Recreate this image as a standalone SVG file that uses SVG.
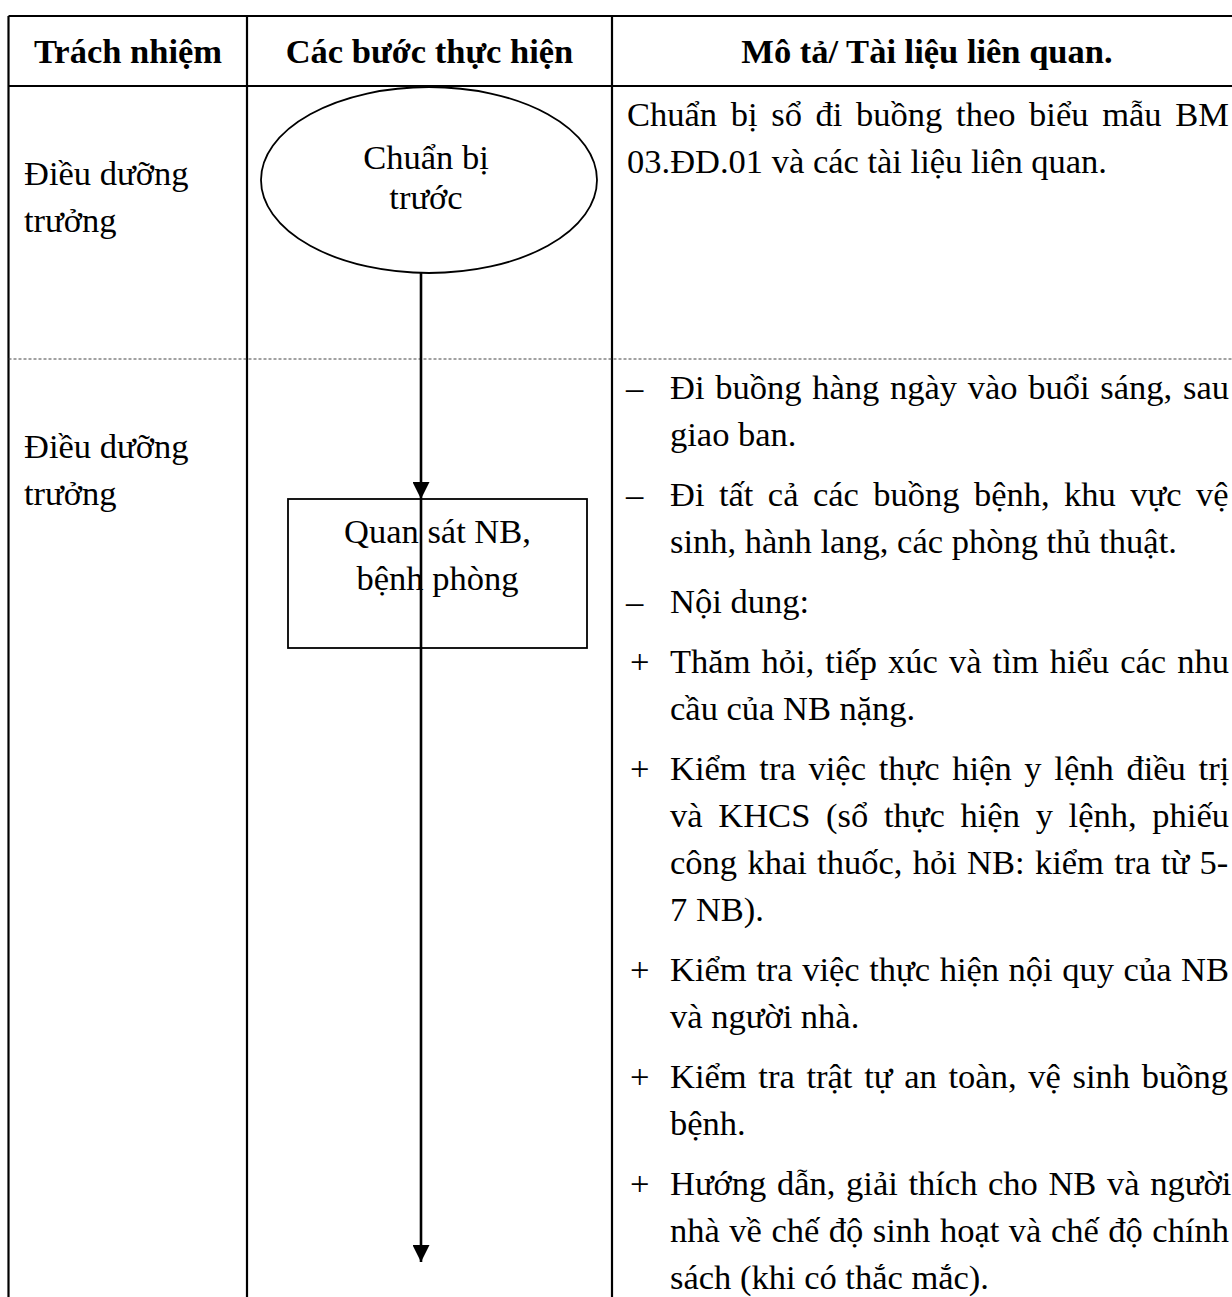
<svg xmlns="http://www.w3.org/2000/svg" width="1232" height="1297" viewBox="0 0 1232 1297">
<defs>
<style>
text{font-family:"Liberation Serif","Times New Roman",serif;font-size:34.5px;fill:#000}
.h{font-weight:bold;text-anchor:middle}
.c{text-anchor:middle}
.grid{stroke:#000;stroke-width:2.2;fill:none}
.dash{stroke:#444;stroke-width:1;stroke-dasharray:3 2;fill:none}
.shape{stroke:#000;stroke-width:1.8;fill:#fff}
.conn{stroke:#000;stroke-width:2.6;fill:none}
</style>
<marker id="arr" viewBox="0 0 17 17" refX="17" refY="8.5" markerWidth="17" markerHeight="17" markerUnits="userSpaceOnUse" orient="auto">
<path d="M0,0 L17,8.5 L0,17 z" fill="#000"/>
</marker>
</defs>
<rect width="1232" height="1297" fill="#fff"/>
<g id="table">
<line class="grid" x1="8.5" y1="16" x2="1232" y2="16"/>
<line class="grid" x1="8.5" y1="86" x2="1232" y2="86"/>
<line class="grid" x1="8.5" y1="16" x2="8.5" y2="1297"/>
<line class="grid" x1="247" y1="16" x2="247" y2="1297"/>
<line class="grid" x1="612" y1="16" x2="612" y2="1297"/>
<line class="dash" x1="8.5" y1="359" x2="1232" y2="359"/>
<text class="h" x="128" y="63">Trách nhiệm</text>
<text class="h" x="429.5" y="63">Các bước thực hiện</text>
<text class="h" x="927" y="63">Mô tả/ Tài liệu liên quan.</text>
</g>
<g id="resp1">
<text x="24" y="185">Điều dưỡng</text>
<text x="24" y="232">trưởng</text>
</g>
<g id="resp2">
<text x="24" y="458">Điều dưỡng</text>
<text x="24" y="505">trưởng</text>
</g>
<g id="node-chuan-bi">
<ellipse class="shape" cx="429" cy="180" rx="168" ry="93"/>
<text class="c" x="426" y="169">Chuẩn bị</text>
<text class="c" x="426" y="209">trước</text>
</g>
<g id="node-quan-sat">
<rect class="shape" x="288" y="499" width="299" height="149"/>
<text class="c" x="437.5" y="543">Quan sát NB,</text>
<text class="c" x="437.5" y="590">bệnh phòng</text>
</g>
<g id="desc1">
<text x="627" y="126" style="word-spacing:5.05px">Chuẩn bị sổ đi buồng theo biểu mẫu BM</text>
<text x="627" y="173">03.ĐD.01 và các tài liệu liên quan.</text>
</g>
<g id="desc2">
<text x="626" y="399">–</text>
<text x="670" y="399" style="word-spacing:2.1px">Đi buồng hàng ngày vào buổi sáng, sau</text>
<text x="670" y="446">giao ban.</text>
<text x="626" y="506">–</text>
<text x="670" y="506" style="word-spacing:5.8px">Đi tất cả các buồng bệnh, khu vực vệ</text>
<text x="670" y="553">sinh, hành lang, các phòng thủ thuật.</text>
<text x="626" y="613">–</text>
<text x="670" y="613">Nội dung:</text>
<text x="630" y="673">+</text>
<text x="670" y="673" style="word-spacing:2.44px">Thăm hỏi, tiếp xúc và tìm hiểu các nhu</text>
<text x="670" y="720">cầu của NB nặng.</text>
<text x="630" y="780">+</text>
<text x="670" y="780" style="word-spacing:4.1px">Kiểm tra việc thực hiện y lệnh điều trị</text>
<text x="670" y="827" style="word-spacing:7.1px">và KHCS (sổ thực hiện y lệnh, phiếu</text>
<text x="670" y="874" style="word-spacing:1.7px">công khai thuốc, hỏi NB: kiểm tra từ 5-</text>
<text x="670" y="921">7 NB).</text>
<text x="630" y="981">+</text>
<text x="670" y="981" style="word-spacing:0.95px">Kiểm tra việc thực hiện nội quy của NB</text>
<text x="670" y="1028">và người nhà.</text>
<text x="630" y="1088">+</text>
<text x="670" y="1088" style="word-spacing:3.1px">Kiểm tra trật tự an toàn, vệ sinh buồng</text>
<text x="670" y="1135">bệnh.</text>
<text x="630" y="1195">+</text>
<text x="670" y="1195" style="word-spacing:2.0px">Hướng dẫn, giải thích cho NB và người</text>
<text x="670" y="1242" style="word-spacing:0.9px">nhà về chế độ sinh hoạt và chế độ chính</text>
<text x="670" y="1289">sách (khi có thắc mắc).</text>
</g>
<g id="connectors">
<path class="conn" d="M421,273 L421,499" marker-end="url(#arr)"/>
<path class="conn" d="M421,499 L421,1262" marker-end="url(#arr)"/>
</g>
</svg>
